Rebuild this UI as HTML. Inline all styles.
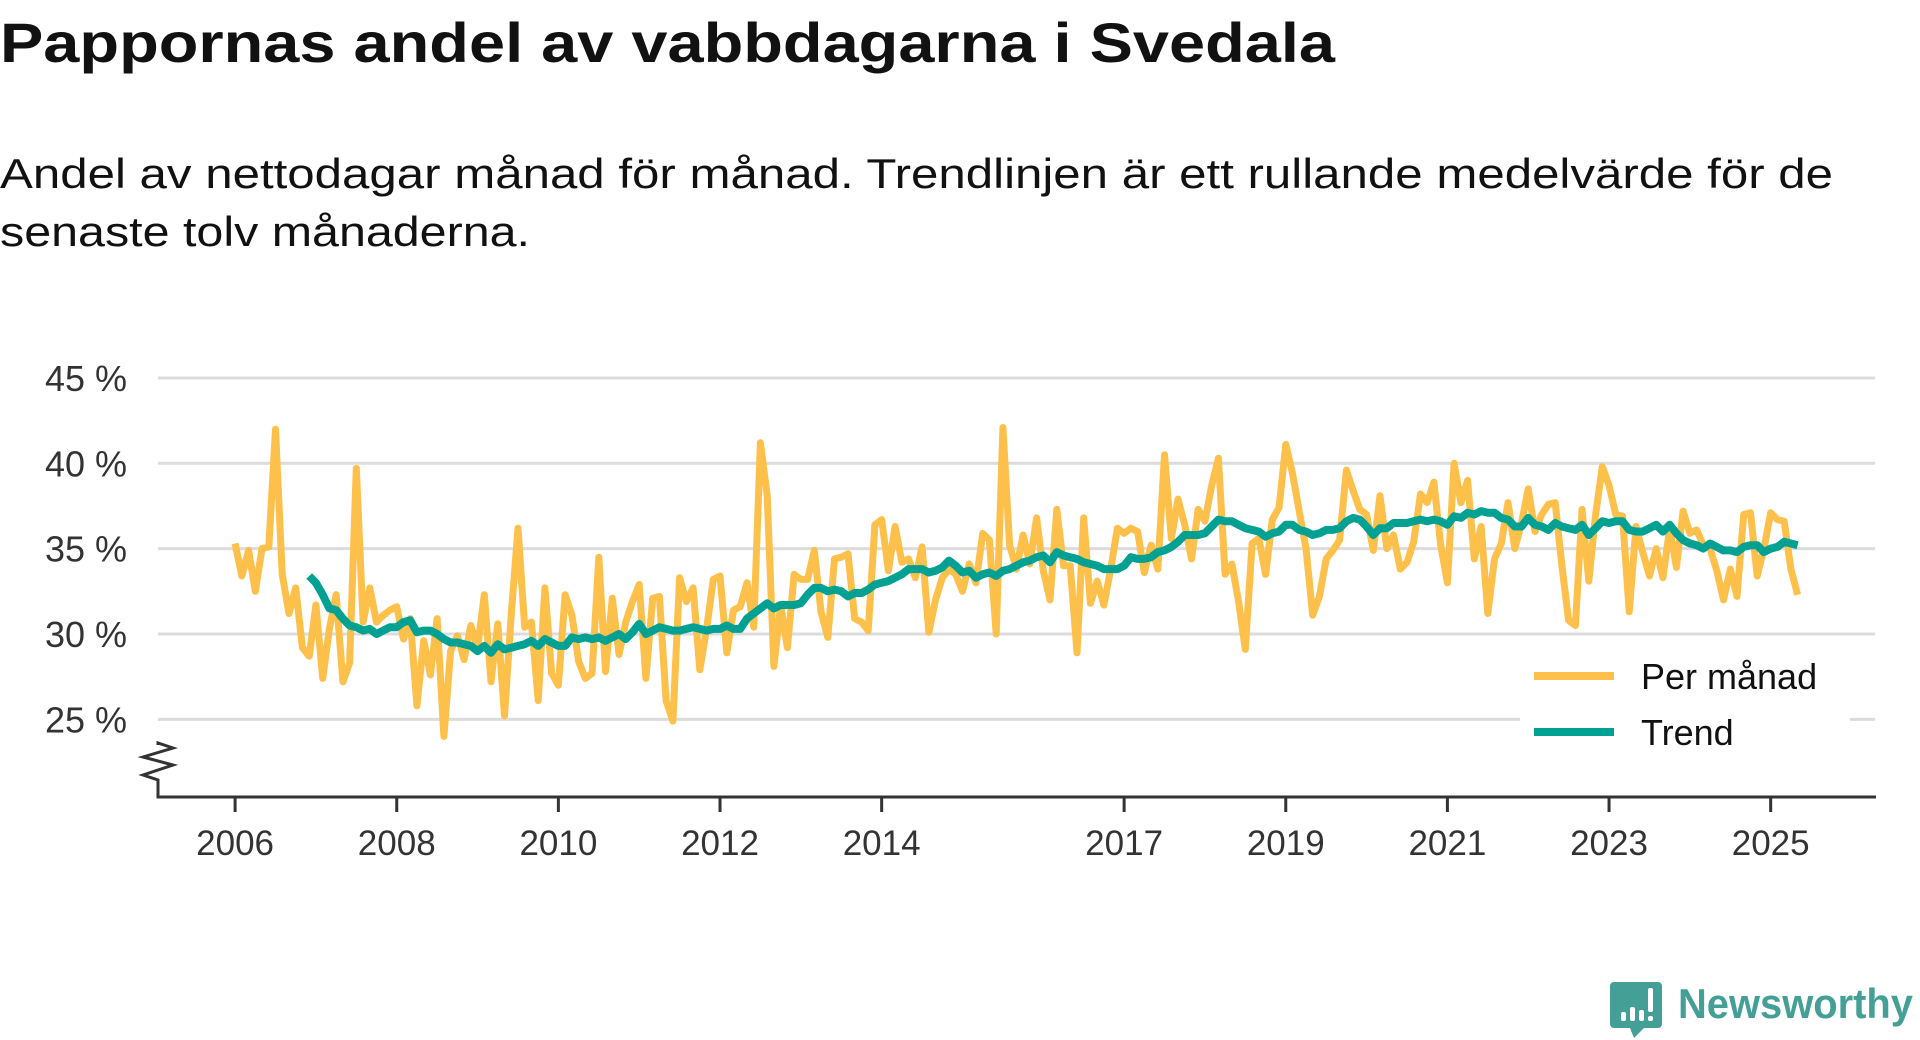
<!DOCTYPE html>
<html><head><meta charset="utf-8"><style>
html,body{margin:0;padding:0;background:#fff;width:1920px;height:1040px;overflow:hidden}
svg{display:block}
text{font-family:"Liberation Sans","DejaVu Sans",sans-serif}
</style></head><body>
<svg id="chart" width="1920" height="1040" viewBox="0 0 1920 1040" xmlns="http://www.w3.org/2000/svg">
<text x="0" y="62" font-size="56" font-weight="bold" fill="#111" textLength="1335" lengthAdjust="spacingAndGlyphs">Pappornas andel av vabbdagarna i Svedala</text>
<text x="0" y="188" font-size="42" fill="#111" textLength="1833" lengthAdjust="spacingAndGlyphs">Andel av nettodagar månad för månad. Trendlinjen är ett rullande medelvärde för de</text>
<text x="0" y="246" font-size="42" fill="#111" textLength="530" lengthAdjust="spacingAndGlyphs">senaste tolv månaderna.</text>
<g id="grid"></g>
<g id="ylabels"></g>
<g id="xaxis"></g>
<g id="series"></g>
<g>
<rect x="1520" y="650" width="330" height="112" fill="#fff"/>
<line x1="1534" y1="676" x2="1614" y2="676" stroke="#fdc04b" stroke-width="8"/>
<text x="1641" y="689" font-size="36" fill="#111">Per månad</text>
<line x1="1534" y1="732" x2="1614" y2="732" stroke="#00a193" stroke-width="8"/>
<text x="1641" y="745" font-size="36" fill="#111">Trend</text>
</g>
<g>
<path d="M1614 982 h44 a4 4 0 0 1 4 4 v38 a4 4 0 0 1 -4 4 h-14 l-10 10 l-4 -10 h-16 a4 4 0 0 1 -4 -4 v-38 a4 4 0 0 1 4 -4z" fill="#44a097"/>
<rect x="1621" y="1012" width="5" height="9" rx="2" fill="#fff"/>
<rect x="1630" y="1007" width="5" height="14" rx="2" fill="#fff"/>
<rect x="1639" y="1010" width="5" height="11" rx="2" fill="#fff"/>
<rect x="1648" y="988" width="5" height="24" rx="2" fill="#fff"/>
<rect x="1648" y="1016" width="5" height="5" rx="2" fill="#fff"/>
<text x="1678" y="1018" font-size="42" font-weight="bold" fill="#44a097" textLength="235" lengthAdjust="spacingAndGlyphs">Newsworthy</text>
</g>
</svg>
<script>
const yTicks = [25, 30, 35, 40, 45];
const yTickLabels = ["25 %", "30 %", "35 %", "40 %", "45 %"];
const xTickYears = [2006, 2008, 2010, 2012, 2014, 2017, 2019, 2021, 2023, 2025];
const startYear = 2006;
const trendStartIndex = 11;
const monthly = [35.3,33.4,34.9,32.5,35.0,35.1,42.0,33.5,31.2,32.7,29.2,28.7,31.7,27.4,30.3,32.3,27.2,28.3,39.7,30.7,32.7,30.7,31.1,31.4,31.6,29.7,30.9,25.8,29.6,27.6,30.9,24.0,29.0,29.9,28.5,30.5,29.2,32.3,27.2,30.6,25.2,31.1,36.2,30.4,30.7,26.1,32.7,27.7,
27.0,32.3,31.1,28.4,27.4,27.7,34.5,27.8,32.1,28.8,30.7,31.9,32.9,27.4,32.1,32.2,26.1,24.9,33.3,31.9,32.7,27.9,30.3,33.2,33.4,28.9,31.4,31.6,33.0,30.4,41.2,38.1,28.1,31.7,29.2,33.5,33.2,33.2,34.9,31.3,29.8,34.4,34.5,34.7,30.9,30.7,30.2,36.4,
36.7,33.7,36.3,34.2,34.4,33.3,35.1,30.1,32.0,33.3,33.8,33.5,32.5,34.1,33.0,35.9,35.5,30.0,42.1,35.2,33.8,35.8,34.1,36.8,33.7,32.0,37.3,34.0,34.0,28.9,36.8,31.8,33.1,31.7,33.8,36.2,35.9,36.2,36.0,33.6,35.2,33.8,40.5,35.6,37.9,36.4,34.4,
37.3,36.6,38.7,40.3,33.5,34.1,31.9,29.1,35.3,35.6,33.5,36.7,37.4,41.1,39.4,37.2,35.0,31.1,32.2,34.4,34.9,35.5,39.6,38.4,37.3,37.0,34.9,38.1,35.0,35.8,33.8,34.2,35.4,38.2,37.7,38.9,35.2,33.0,40.0,37.7,39.0,34.4,36.3,31.2,34.4,35.3,37.7,35.0,
36.5,38.5,36.0,37.0,37.6,37.7,34.0,30.8,30.5,37.3,33.1,37.0,39.8,38.7,37.0,36.9,31.3,36.3,34.8,33.4,35.0,33.3,36.2,33.9,37.2,35.9,36.1,35.2,35.0,33.7,32.0,33.8,32.2,37.0,37.1,33.4,35.0,37.1,36.7,36.6,33.8,32.3];
const trend = [33.4,33.0,32.3,31.5,31.4,30.9,30.5,30.4,30.2,30.3,30.0,30.2,30.4,30.4,30.7,30.8,30.1,30.2,30.2,30.0,29.7,29.5,29.5,29.4,29.3,29.0,29.3,28.9,29.4,29.1,29.2,29.3,29.4,29.6,29.3,29.7,29.5,
29.3,29.3,29.8,29.7,29.8,29.7,29.8,29.6,29.8,30.0,29.7,30.1,30.6,30.0,30.2,30.4,30.3,30.2,30.2,30.3,30.4,30.3,30.2,30.3,30.3,30.5,30.3,30.3,30.9,31.2,31.5,31.8,31.5,31.7,31.7,31.7,31.8,32.3,32.7,32.7,32.5,32.6,32.5,32.2,32.4,32.4,32.6,32.9,
33.0,33.1,33.3,33.5,33.8,33.8,33.8,33.6,33.7,33.9,34.3,34.0,33.6,33.7,33.3,33.5,33.6,33.4,33.7,33.8,34.0,34.2,34.3,34.5,34.6,34.2,34.8,34.6,34.5,34.4,34.2,34.1,34.0,33.8,33.8,33.8,34.0,34.5,34.4,34.4,34.5,34.8,34.9,35.1,35.4,35.8,35.8,
35.8,35.9,36.3,36.7,36.6,36.6,36.4,36.2,36.1,36.0,35.7,35.9,36.0,36.4,36.4,36.1,36.0,35.8,35.9,36.1,36.1,36.2,36.6,36.8,36.7,36.3,35.8,36.2,36.2,36.5,36.5,36.5,36.6,36.7,36.6,36.7,36.6,36.4,36.9,36.8,37.1,37.0,37.2,37.1,37.1,36.8,36.7,36.3,
36.3,36.8,36.4,36.3,36.1,36.5,36.3,36.2,36.1,36.4,35.8,36.2,36.6,36.5,36.6,36.6,36.1,36.0,36.0,36.2,36.4,36.0,36.4,35.9,35.5,35.3,35.2,35.0,35.3,35.1,34.9,34.9,34.8,35.1,35.2,35.2,34.8,35.0,35.1,35.4,35.3,35.2];

const NS = "http://www.w3.org/2000/svg";
const X0 = 235.1, PX_PER_MONTH = 6.735;
const Y40 = 463.3, PX_PER_PCT = 17.07;
function xScale(monthIndex){ return X0 + monthIndex * PX_PER_MONTH; }
function yScale(v){ return Y40 - (v - 40) * PX_PER_PCT; }
function mk(tag, attrs, parent){ const e = document.createElementNS(NS, tag); for (const k in attrs) e.setAttribute(k, attrs[k]); parent.appendChild(e); return e; }

const grid = document.getElementById('grid');
const ylab = document.getElementById('ylabels');
yTicks.forEach((v, i) => {
  const y = yScale(v);
  const l = mk('line', {x1:158, x2:1875, y1:y, y2:y, stroke:'#dcdcdc', 'stroke-width':3}, grid);
  
  
  const t = mk('text', {x:127, y:y+13, 'font-size':36, fill:'#333', 'text-anchor':'end'}, ylab);
  t.textContent = yTickLabels[i];
  
  
});

const xa = document.getElementById('xaxis');
const axisLine = mk('path', {d:'M158 785 V797 H1876', fill:'none', stroke:'#333', 'stroke-width':3}, xa);


const brk = mk('path', {d:'M158 785 L158 780 L143 775 L173 765 L143 757 L173 748 L158 743 L158 745', fill:'none', stroke:'#333', 'stroke-width':3}, xa);


xTickYears.forEach(yr => {
  const x = xScale((yr - startYear) * 12);
  const tk = mk('line', {x1:x, x2:x, y1:797, y2:812, stroke:'#333', 'stroke-width':3}, xa);
  
  
  const t = mk('text', {x:x, y:855, 'font-size':35, fill:'#333', 'text-anchor':'middle'}, xa);
  t.textContent = String(yr);
  
  
});

const series = document.getElementById('series');
const monthlyPath = monthly.map((v, i) => (i ? 'L' : 'M') + xScale(i).toFixed(1) + ' ' + yScale(v).toFixed(1)).join(' ');
const mp = mk('path', {d:monthlyPath, fill:'none', stroke:'#fdc04b', 'stroke-width':7, 'stroke-linejoin':'round'}, series);


const trendPath = trend.map((v, i) => (i ? 'L' : 'M') + xScale(i + trendStartIndex).toFixed(1) + ' ' + yScale(v).toFixed(1)).join(' ');
const tp = mk('path', {d:trendPath, fill:'none', stroke:'#00a193', 'stroke-width':8, 'stroke-linejoin':'round'}, series);


</script>
</body></html>
